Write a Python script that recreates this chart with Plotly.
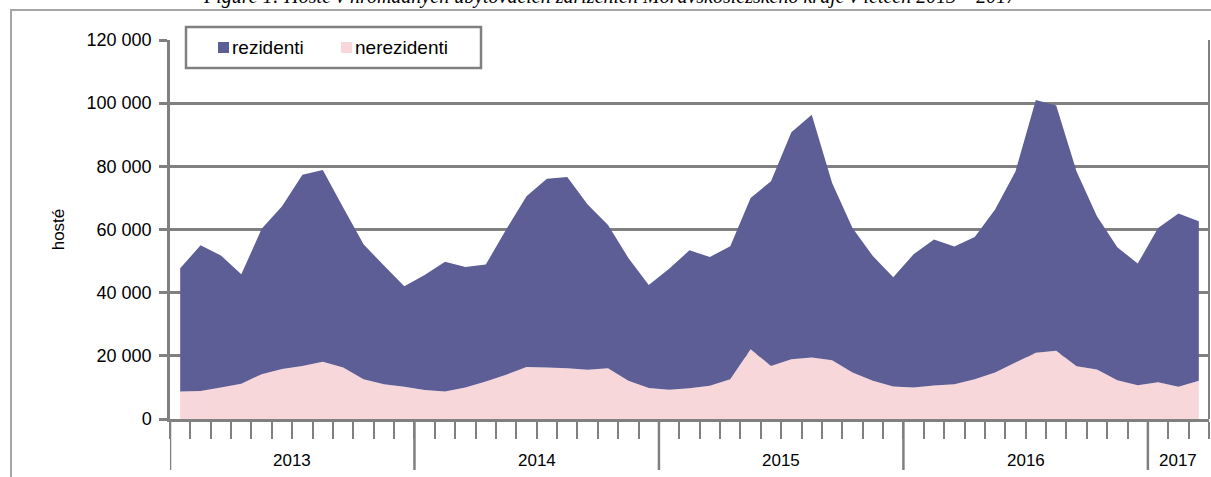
"""Hosté v HUZ Moravskoslezského kraje 2013-2017 - stacked area"""

import plotly.graph_objects as go

# months Jan 2013 .. Mar 2017 (51 values)
years = ["2013", "2014", "2015", "2016", "2017"]
months_per_year = [12, 12, 12, 12, 3]

nerezidenti = [
    8700, 8900, 10000, 11200, 14200, 15800, 16800, 18100, 16300, 12600, 11000, 10200,
    9200, 8700, 10000, 11900, 14000, 16500, 16300, 16100, 15600, 16100, 12100, 9800,
    9300, 9700, 10500, 12600, 22100, 16800, 18900, 19500, 18600, 14700, 12100, 10300,
    10000, 10600, 11000, 12600, 14700, 17900, 21000, 21600, 16700, 15700, 12300, 10700,
    11600, 10200, 12100,
]
rezidenti = [
    39000, 46100, 41800, 34600, 46000, 51600, 60500, 60700, 50700, 42700, 37600, 31800,
    36400, 41100, 38100, 37000, 46000, 54000, 59800, 60500, 52300, 45300, 38900, 32600,
    38300, 43700, 40800, 42100, 47900, 58500, 71900, 76800, 56100, 45800, 39500, 34600,
    42200, 46200, 43600, 45000, 51600, 60500, 80000, 77700, 61700, 48500, 42100, 38500,
    48900, 54900, 50500,
]

PURPLE = "#5E5E96"
PINK = "#F8D7DA"
GRAY = "#808080"
FONT = "Liberation Sans, Arial, sans-serif"

W, H = 1211, 477
L, R, T, B = 170, 2, 40, 58
PW, PH = W - L - R, H - T - B


def px_x(p):
    return (p - L) / PW


def px_y(p):
    return (H - B - p) / PH


n = len(rezidenti)
x = [i + 0.5 for i in range(n)]

fig = go.Figure()
fig.add_trace(go.Scatter(x=x, y=nerezidenti, stackgroup="one", mode="none",
                         fillcolor=PINK, name="nerezidenti"))
fig.add_trace(go.Scatter(x=x, y=rezidenti, stackgroup="one", mode="none",
                         fillcolor=PURPLE, name="rezidenti"))

shapes = []
annotations = []

# year separators below the axis
edge = 0
for m in months_per_year:
    shapes.append(dict(type="line", xref="x", yref="paper", x0=edge, x1=edge,
                       y0=0, y1=px_y(470), line=dict(color=GRAY, width=2.5)))
    edge += m
# right border of plot
shapes.append(dict(type="line", xref="paper", yref="paper", x0=1, x1=1, y0=0, y1=1,
                   line=dict(color=GRAY, width=2)))
# outer frame
shapes.append(dict(type="rect", xref="paper", yref="paper",
                   x0=px_x(11), x1=px_x(1300), y0=px_y(600), y1=px_y(10),
                   line=dict(color="#A6A6A6", width=2), layer="below"))

# legend box (drawn by hand to match the original layout)
shapes.append(dict(type="rect", xref="paper", yref="paper",
                   x0=px_x(186), x1=px_x(481), y0=px_y(68), y1=px_y(27),
                   fillcolor="white", line=dict(color=GRAY, width=2.5), layer="above"))
for name, col, sx in [("rezidenti", PURPLE, 218), ("nerezidenti", PINK, 341)]:
    shapes.append(dict(type="rect", xref="paper", yref="paper",
                       x0=px_x(sx), x1=px_x(sx + 11), y0=px_y(53), y1=px_y(42),
                       fillcolor=col, line=dict(width=0), layer="above"))
    annotations.append(dict(x=px_x(sx + 12), y=px_y(47), xref="paper", yref="paper",
                            xanchor="left", yanchor="middle", text=name, showarrow=False,
                            font=dict(family=FONT, size=19, color="black")))

edge = 0
for yr, m in zip(years, months_per_year):
    annotations.append(dict(x=edge + m / 2, y=px_y(460), xref="x", yref="paper",
                            text=yr, showarrow=False, yanchor="middle",
                            font=dict(family=FONT, size=17, color="black")))
    edge += m
annotations.append(dict(
    x=px_x(610), y=px_y(10), xref="paper", yref="paper", yanchor="bottom",
    text="<i>Figure 1: Hosté v hromadných ubytovacích zařízeních Moravskoslezského kraje v letech 2013 – 2017</i>",
    showarrow=False, font=dict(family="Liberation Serif, Times New Roman, serif", size=20, color="black")))

fig.update_layout(
    width=W, height=H,
    margin=dict(l=L, r=R, t=T, b=B, autoexpand=False),
    paper_bgcolor="white", plot_bgcolor="white",
    separators=", ",
    showlegend=False,
    shapes=shapes, annotations=annotations,
    xaxis=dict(range=[0, n], tickvals=list(range(n + 1)), showticklabels=False,
               ticks="outside", ticklen=17, tickwidth=2, tickcolor=GRAY,
               showline=True, linecolor=GRAY, linewidth=2.5, showgrid=False,
               zeroline=False, automargin=False),
    yaxis=dict(range=[0, 120000], tickvals=list(range(0, 120001, 20000)), tickformat=",",
               ticks="outside", ticklen=8, tickwidth=2.5, tickcolor=GRAY,
               ticklabelstandoff=4,
               showline=True, linecolor=GRAY, linewidth=2.5, automargin=False,
               showgrid=True, gridcolor=GRAY, gridwidth=2.5, zeroline=False,
               tickfont=dict(family=FONT, size=18, color="black"),
               title=dict(text="hosté", font=dict(family=FONT, size=17, color="black"),
                          standoff=18)),
)

fig.write_html("out.html", config={"displayModeBar": False},
               post_script="document.body.style.margin='0';")
